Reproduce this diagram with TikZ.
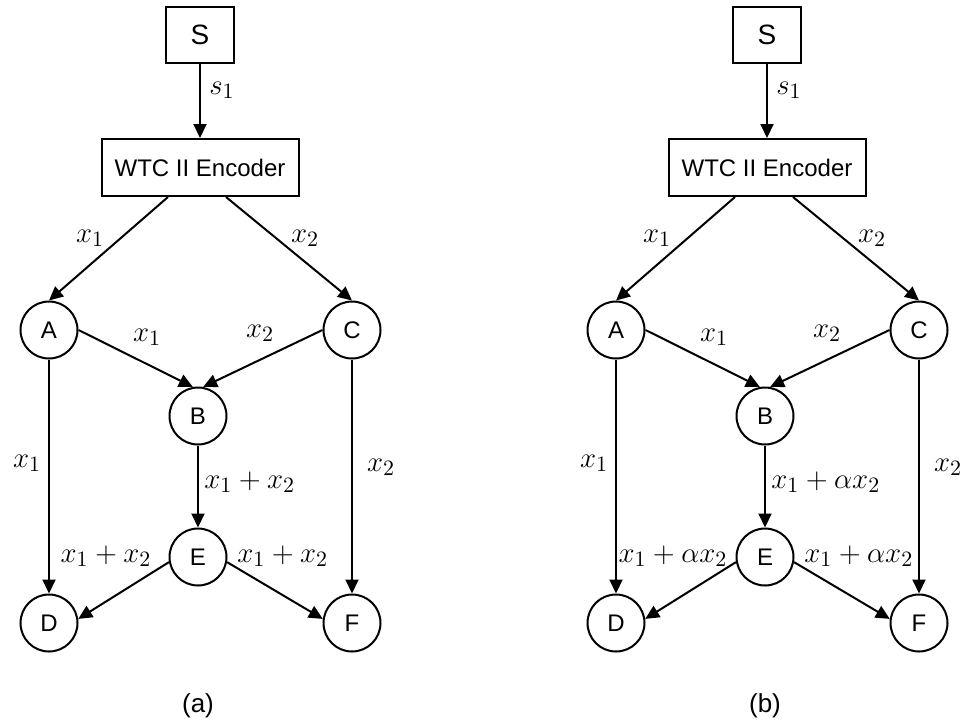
\documentclass[tikz,border=0pt]{standalone}
\usepackage[no-math]{fontspec}
\setsansfont{Liberation Sans}
\usepackage{tikz}
\usetikzlibrary{arrows.meta}
\usepackage{xcolor}

\tikzset{
  netnode/.style={circle, draw, line width=1pt, minimum size=28.5pt, inner sep=0pt,
                  font=\sffamily\fontsize{12}{14}\selectfont},
  boxnode/.style={rectangle, draw, line width=1pt, minimum height=28.5pt, inner sep=0pt,
                  font=\sffamily\fontsize{12}{14}\selectfont},
  arr/.style={-{Triangle[length=7pt, width=6.5pt]}, line width=1pt},
  lbl/.style={inner sep=0pt, font=\fontsize{15.5}{18}\selectfont}
}

\begin{document}
\begin{tikzpicture}[x=0.5pt, y=-0.5pt]
  \useasboundingbox (0,0) rectangle (969,724);
  \foreach \p/\dx/\coef in {a/0/{}, b/567/\alpha}{
    \begin{scope}[shift={(\dx,0)}]
      % nodes
      \node[boxnode, minimum width=34pt, minimum height=28pt,
            font=\sffamily\fontsize{14}{16}\selectfont] (S\p) at (200,35) {S};
      \node[boxnode, minimum width=98.5pt] (enc\p) at (200,167.5) {WTC II Encoder};
      \node[netnode] (A\p) at (49,330) {A};
      \node[netnode] (C\p) at (352,330) {C};
      \node[netnode] (B\p) at (198,416) {B};
      \node[netnode] (E\p) at (198,557) {E};
      \node[netnode] (D\p) at (49,623) {D};
      \node[netnode] (F\p) at (352,623) {F};
      % connectors
      \draw[arr] (S\p.south) -- (enc\p.north);
      \draw[arr] ([xshift=-16pt]enc\p.south) -- (A\p.north);
      \draw[arr] ([xshift=13pt]enc\p.south) -- (C\p.north);
      \draw[arr] (A\p.east) -- (B\p.100);
      \draw[arr] (C\p.west) -- (B\p.80);
      \draw[arr] (A\p.south) -- (D\p.north);
      \draw[arr] (C\p.south) -- (F\p.north);
      \draw[arr] (B\p.south) -- (E\p.north);
      \draw[arr] (E\p.190) -- (D\p.8);
      \draw[arr] (E\p.350) -- (F\p.172);
      % labels
      \node[lbl, anchor=west] (ls\p) at (209,90) {$s_1$};
      \node[lbl] (lea\p) at (90,238) {$x_1$};
      \node[lbl] (lec\p) at (305,238) {$x_2$};
      \node[lbl] (lab\p) at (147,337) {$x_1$};
      \node[lbl] (lcb\p) at (260,333) {$x_2$};
      \node[lbl] (lad\p) at (27,463) {$x_1$};
      \node[lbl] (lcf\p) at (381,467) {$x_2$};
      \node[lbl, anchor=west] (lbe\p) at (204,482) {$x_1+\coef x_2$};
      \node[lbl] (led\p) at (106,556) {$x_1+\coef x_2$};
      \node[lbl, anchor=west] (lef\p) at (237,556) {$x_1+\coef x_2$};
      \node[font=\sffamily\fontsize{13}{15}\selectfont] (cap\p) at (198,706) {(\p)};
    \end{scope}
  }
\end{tikzpicture}
\end{document}
